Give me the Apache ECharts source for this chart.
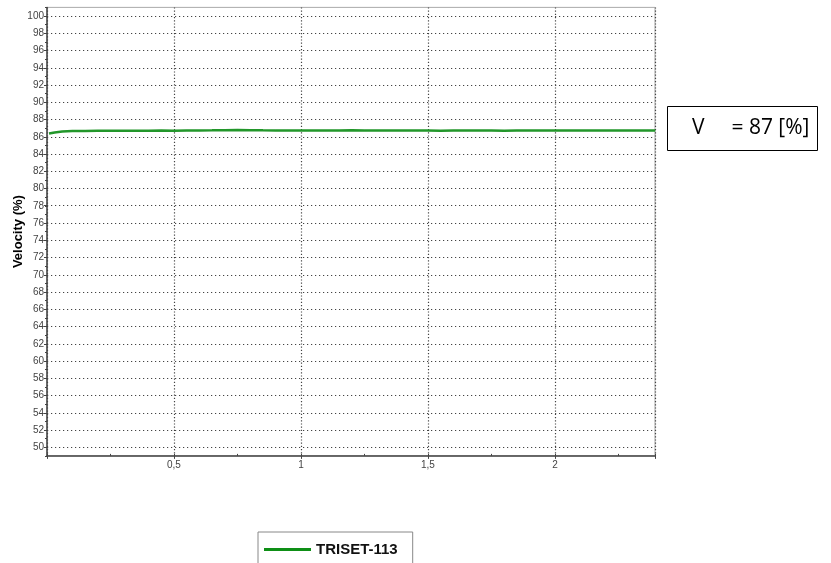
<!DOCTYPE html>
<html>
<head>
<meta charset="utf-8">
<script src="https://cdn.jsdelivr.net/npm/echarts@6/dist/echarts.min.js"></script>
<style>
html,body{margin:0;padding:0;background:#fff;}
#chart{width:831px;height:563px;}
</style>
</head>
<body>
<div id="chart"></div>
<script>
// ---- data ----
const seriesName = 'TRISET-113';
const xs = [0.008,0.03,0.06,0.10,0.15,0.20,0.25,0.30,0.35,0.40,0.45,0.50,0.55,0.60,0.65,0.70,0.75,0.80,0.85,0.90,0.95,1.00,1.05,1.10,1.15,1.20,1.25,1.30,1.35,1.40,1.45,1.50,1.55,1.60,1.65,1.70,1.75,1.80,1.85,1.90,1.95,2.00,2.05,2.10,2.15,2.20,2.25,2.30,2.35,2.395];
const vs = [86.38,86.50,86.60,86.66,86.68,86.69,86.70,86.70,86.71,86.70,86.72,86.71,86.72,86.73,86.74,86.76,86.77,86.76,86.74,86.73,86.72,86.72,86.73,86.72,86.73,86.74,86.73,86.72,86.73,86.72,86.73,86.72,86.71,86.72,86.73,86.72,86.72,86.71,86.72,86.73,86.72,86.72,86.73,86.72,86.73,86.72,86.72,86.73,86.72,86.72];
const yTitle = 'Velocity (%)';
const boxSymbol = 'V';
const boxValue = '  = 87 [%]';
const xMin = 0, xMax = 2.394, xStep = 0.5, xMinorStep = 0.25;
const yMin = 50, yMax = 100, yStep = 2;
const yFrameMin = 49, yFrameMax = 101, yMinorStep = 1;

const chart = echarts.init(document.getElementById('chart'), null, {renderer:'canvas'});
const dottedH = {color:'#444', width:1.2, type:[1.2,2.8]};
const dottedV = {color:'#444', width:1.2, type:[1.2,2]};
const axisColor = '#444';
const labelFont = {fontFamily:'Liberation Sans, Arial, sans-serif', fontSize:10, color:'#444'};
const boxFont = {fontFamily:'Open Sans, Noto Sans, sans-serif', fontSize:21, fontWeight:'normal', color:'#000', lineHeight:21};

const option = {
  animation:false,
  backgroundColor:'#fff',
  title:{
    text: '{a|' + boxSymbol + '}{b|' + boxValue + '}',
    left: 667, top: 106,
    padding:[12, 8, 12, 25],
    borderColor:'#000', borderWidth:1,
    textStyle:{
      fontWeight:'normal',
      rich:{
        a:Object.assign({padding:[0,16,0,0]}, boxFont),
        b:Object.assign({}, boxFont)
      }
    }
  },
  legend:{
    data:[seriesName],
    left:258, top:532,
    icon:'rect', itemWidth:47, itemHeight:3, itemGap:10,
    padding:[10, 15, 12, 6],
    borderColor:'#888', borderWidth:1,
    textStyle:{fontFamily:'Liberation Sans, Arial, sans-serif', fontSize:15, fontWeight:'bold', color:'#111'}
  },
  grid:[
    {left:47, right:176, top:16, height:431.25, containLabel:false, outerBoundsMode:'none'},
    {left:47, right:176, top:7.375, height:448.5, containLabel:false, outerBoundsMode:'none',
     show:true, borderColor:'#aaa', borderWidth:1, backgroundColor:'transparent'}
  ],
  xAxis:[
    {gridIndex:0, type:'value', position:'bottom', min:xMin, max:xMax, interval:xStep,
     axisLine:{show:false}, axisTick:{show:false}, splitLine:{show:false},
     axisLabel:Object.assign({margin:13, showMinLabel:false, showMaxLabel:false,
       formatter:v=> (Math.abs(v/xStep - Math.round(v/xStep))<1e-6 && v>0) ? String(v).replace('.', ',') : ''}, labelFont)},
    {gridIndex:1, type:'value', position:'bottom', min:xMin, max:xMax, interval:xStep,
     axisLine:{show:true, onZero:false, lineStyle:{color:axisColor, width:1.5}},
     axisTick:{show:true, length:3, lineStyle:{color:axisColor}},
     axisLabel:{show:false},
     splitLine:{show:true, lineStyle:dottedV}},
    {gridIndex:1, type:'value', position:'bottom', min:xMin, max:xMax, interval:xMinorStep,
     axisLine:{show:false, onZero:false}, axisTick:{show:true, inside:true, length:2, lineStyle:{color:axisColor}},
     axisLabel:{show:false}, splitLine:{show:false}}
  ],
  yAxis:[
    {gridIndex:0, type:'value', position:'left', min:yMin, max:yMax, interval:yStep,
     axisLine:{show:false}, axisTick:{show:true, length:3, lineStyle:{color:axisColor}},
     axisLabel:Object.assign({margin:3}, labelFont),
     splitLine:{show:true, lineStyle:dottedH},
     name:yTitle, nameLocation:'middle', nameGap:22, nameMoveOverlap:false,
     nameTextStyle:{fontFamily:'Liberation Sans, Arial, sans-serif', fontSize:13, fontWeight:'bold', color:'#000'}},
    {gridIndex:1, type:'value', position:'left', min:yFrameMin, max:yFrameMax, interval:yMinorStep,
     axisLine:{show:true, onZero:false, lineStyle:{color:axisColor, width:1.5}},
     axisTick:{show:true, length:2, lineStyle:{color:axisColor}},
     axisLabel:{show:false}, splitLine:{show:false}}
  ],
  series:[{
    name:seriesName, type:'line', xAxisIndex:0, yAxisIndex:0,
    data: xs.map((x,i)=>[x, vs[i]]),
    showSymbol:false, symbol:'none',
    lineStyle:{color:'#22962a', width:2.5},
    itemStyle:{color:'#0e8f16'},
    z:5
  }]
};
chart.setOption(option);
</script>
</body>
</html>
